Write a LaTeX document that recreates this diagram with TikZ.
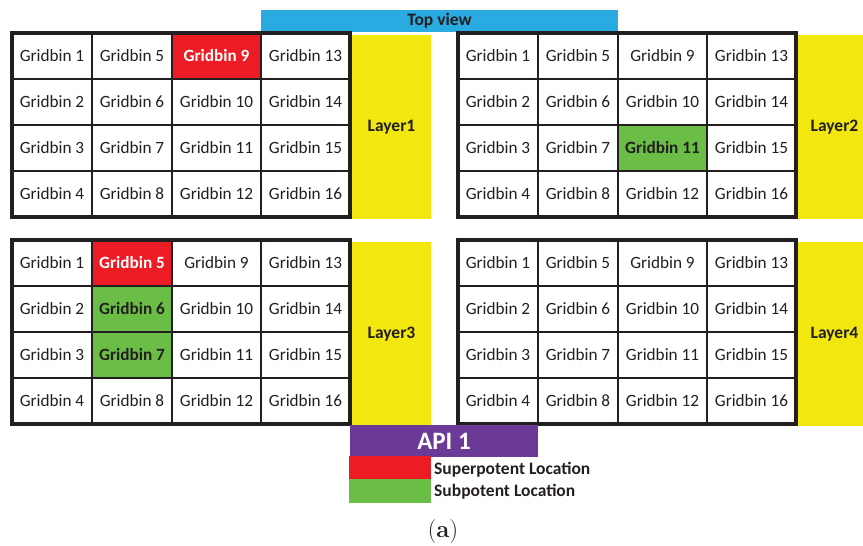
\documentclass[tikz,border=0pt]{standalone}
\usepackage{fontspec}
\newfontfamily\calfont{Carlito}
\definecolor{ink}{HTML}{231F20}
\definecolor{myred}{HTML}{ED1C24}
\definecolor{mygreen}{HTML}{6ABD45}
\definecolor{myyellow}{HTML}{F2E80F}
\definecolor{myblue}{HTML}{29ABE2}
\definecolor{mypurple}{HTML}{6B3A96}
\tikzset{
  txt/.style={font=\calfont\fontsize{17.2}{20}\selectfont, text=ink},
  btxt/.style={font=\calfont\bfseries\fontsize{17.5}{20}\selectfont, text=ink},
  cell/.style={txt, draw=ink, line width=2pt, fill=white, inner sep=0pt},
  hot/.style={fill=myred, text=white, font=\calfont\bfseries\fontsize{17.2}{20}\selectfont},
  cold/.style={fill=mygreen, font=\calfont\bfseries\fontsize{17.2}{20}\selectfont},
  g1-9/.style=hot, g2-11/.style=cold, g3-5/.style=hot, g3-6/.style=cold, g3-7/.style=cold,
  outer/.style={draw=ink, line width=4pt},
  layerbox/.style={btxt, fill=myyellow, inner sep=0pt, minimum height=184pt},
  legtxt/.style={btxt, anchor=west, inner sep=0pt},
}
\newcommand\mygrid[3]{%
  \foreach \c/\xa/\xb in {0/0/80,1/80/160,2/160/249,3/249/338} {
    \foreach \r in {0,1,2,3} {
      \pgfmathtruncatemacro\gn{4*\c+\r+1}
      \pgfmathsetmacro\gw{\xb-\xa}
      \node[cell, g#1-\gn/.try, minimum width=\gw pt, minimum height=46pt]
        (g#1c\gn) at ({#2+(\xa+\xb)/2},{#3+\r*46+23}) {Gridbin \gn};
    }
  }
  \draw[outer] (#2,#3) rectangle ++(338,184);
}
\begin{document}
\begin{tikzpicture}[x=1pt,y=-1pt]
\useasboundingbox (0,0) rectangle (863,546);
% top view
\node[btxt, fill=myblue, minimum width=357pt, minimum height=22pt, inner sep=0pt] (top) at (439.5,21) {\raisebox{-1.5pt}{Top view}};
% layers
\node[layerbox, minimum width=79pt] (layer1) at (391.5,127) {Layer1};
\node[layerbox, minimum width=66pt] (layer2) at (830.5,127) {\hspace*{8pt}Layer2};
\node[layerbox, minimum width=79pt] (layer3) at (391.5,334) {Layer3};
\node[layerbox, minimum width=66pt] (layer4) at (830.5,334) {\hspace*{8pt}Layer4};
% grids
\mygrid{1}{12}{33}
\mygrid{2}{458}{33}
\mygrid{3}{12}{240}
\mygrid{4}{458}{240}
% API
\node[fill=mypurple, text=white, font=\calfont\bfseries\fontsize{25}{28}\selectfont,
      minimum width=188pt, minimum height=32pt, inner sep=0pt] (api) at (444,441) {API 1};
% legend
\node[fill=myred, minimum width=82pt, minimum height=23pt, inner sep=0pt] (lr) at (390,467.5) {};
\node[fill=mygreen, minimum width=82pt, minimum height=24pt, inner sep=0pt] (lg) at (390,491) {};
\node[legtxt] (ls) at (434,470) {Superpotent Location};
\node[legtxt] (lb) at (434,492) {Subpotent Location};
% caption
\node[font=\fontsize{24}{28}\selectfont, text=ink] (cap) at (443,532) {(\textbf{a})};
\end{tikzpicture}
\end{document}
